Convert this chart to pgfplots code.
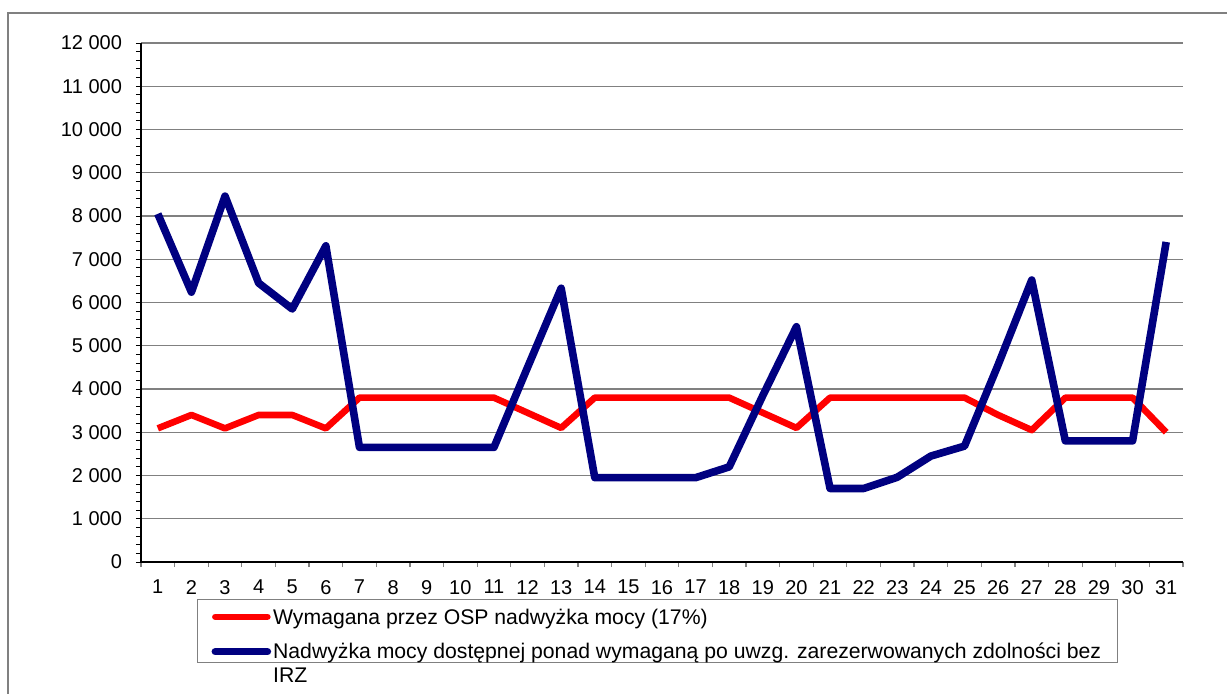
\documentclass[border=0pt]{standalone}
\usepackage{pgfplots}
\pgfplotsset{compat=1.18}
\usepackage{fontspec}
\setmainfont{Liberation Sans}
\definecolor{xred}{HTML}{FF0000}
\definecolor{xnavy}{HTML}{000080}
\definecolor{xgrid}{HTML}{808080}
\begin{document}
\begin{tikzpicture}
\useasboundingbox (-70.5pt,-65.5pt) rectangle (543pt,281pt);
\begin{scope}
\clip (-70.5pt,-65.5pt) rectangle (543pt,281pt);
\draw[xgrid, line width=0.7pt] (-66.5pt,-80pt) rectangle (560pt,274.5pt);
\end{scope}
\begin{axis}[
  at={(0pt,0pt)}, anchor=south west,
  scale only axis, width=521pt, height=259.5pt,
  xmin=0.5, xmax=31.5, ymin=0, ymax=12000,
  axis x line*=bottom, axis y line*=left,
  axis line style={black, line width=0.6pt},
  /pgf/number format/assume math mode=true,
  scaled y ticks=false,
  xtick={1,...,31},
  minor xtick={0.5,1.5,...,31.5},
  ytick={0,1000,...,12000},
  yticklabels={0,1 000,2 000,3 000,4 000,5 000,6 000,7 000,8 000,9 000,10 000,11 000,12 000},
  minor y tick num=4,
  tick align=outside,
  x tick style={draw=none},
  minor x tick style={draw=xgrid, line width=0.6pt},
  y tick style={black, line width=0.5pt},
  major tick length=2.5pt, minor tick length=2.5pt,
  ymajorgrids, major grid style={xgrid, line width=0.6pt},
  tick label style={font=\fontsize{10}{12}\selectfont},
  yticklabel style={xshift=-3.5pt},
  xticklabel style={yshift=-3pt},
  legend style={at={(0.0537,0)}, anchor=north west, yshift=-18.5pt,
    draw=xgrid, line width=0.6pt, font=\fontsize{10.6}{11.75}\selectfont,
    nodes={inner xsep=1pt, inner ysep=0pt}, row sep=6.75pt, column sep=0pt,
    inner xsep=7pt, inner ysep=0pt,
    cells={anchor=base west}},
  legend image code/.code={\path (0pt,0pt); \draw[#1, line cap=round] (0pt,3.6pt) -- (26pt,3.6pt);},
]
\addplot[xred, line width=3.3pt, line join=round] coordinates {
(1,3090) (2,3400) (3,3090) (4,3400) (5,3400) (6,3090) (7,3800) (8,3800) (9,3800) (10,3800)
(11,3800) (12,3450) (13,3100) (14,3800) (15,3800) (16,3800) (17,3800) (18,3800) (19,3450)
(20,3100) (21,3800) (22,3800) (23,3800) (24,3800) (25,3800) (26,3400) (27,3050) (28,3800)
(29,3800) (30,3800) (31,3000)};
\addlegendentry{\rule[-3pt]{0pt}{15.2pt}Wymagana przez OSP nadwyżka mocy (17\%)}
\addplot[xnavy, line width=3.8pt, line join=round] coordinates {
(1,8050) (2,6240) (3,8460) (4,6450) (5,5850) (6,7310) (7,2650) (8,2650) (9,2650) (10,2650)
(11,2650) (12,4500) (13,6330) (14,1950) (15,1950) (16,1950) (17,1950) (18,2200) (19,3850)
(20,5440) (21,1700) (22,1700) (23,1960) (24,2450) (25,2680) (26,4560) (27,6520) (28,2800)
(29,2800) (30,2800) (31,7400)};
\addlegendentry{\vtop{\hbox{\rule{0pt}{9pt}Nadwyżka mocy dostępnej ponad wymaganą po uwzg. zarezerwowanych zdolności bez}\hbox{\rule[-1.4pt]{0pt}{0pt}IRZ}}}
\end{axis}
\end{tikzpicture}
\end{document}
